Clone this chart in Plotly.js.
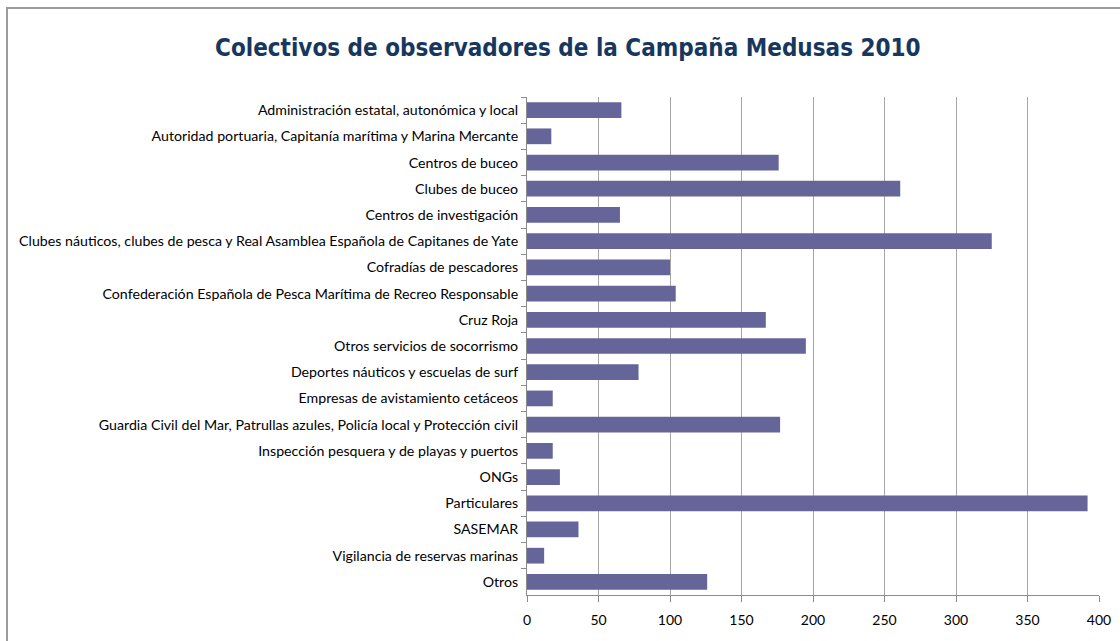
<!DOCTYPE html>
<html lang="es">
<head>
    <meta charset="UTF-8">
    <title>Colectivos de observadores de la Campaña Medusas 2010</title>
    <script src="https://cdn.plot.ly/plotly-3.0.1.min.js"></script>
    <style>
        body {
            margin: 0;
            background-color: white;
            overflow: hidden;
        }

        #chart {
            width: 1120px;
            height: 641px;
        }

        /* marco del gráfico (solo se ve arriba y a la izquierda) */
        .frame {
            position: absolute;
            left: 6px;
            top: 7px;
            width: 1200px;
            height: 700px;
            border-top: 2px solid #9c9c9c;
            border-left: 2px solid #9c9c9c;
            pointer-events: none;
        }
    </style>
</head>
<body>
    <div id="chart"></div>
    <div class="frame"></div>

    <script>
        // Colectivos (orden de arriba a abajo)
        const categorias = [
            'Administración estatal, autonómica y local',
            'Autoridad portuaria, Capitanía marítima y Marina Mercante',
            'Centros de buceo',
            'Clubes de buceo',
            'Centros de investigación',
            'Clubes náuticos, clubes de pesca y Real Asamblea Española de Capitanes de Yate',
            'Cofradías de pescadores',
            'Confederación Española de Pesca Marítima de Recreo Responsable',
            'Cruz Roja',
            'Otros servicios de socorrismo',
            'Deportes náuticos y escuelas de surf',
            'Empresas de avistamiento cetáceos',
            'Guardia Civil del Mar, Patrullas azules, Policía local y Protección civil',
            'Inspección pesquera y de playas y puertos',
            'ONGs',
            'Particulares',
            'SASEMAR',
            'Vigilancia de reservas marinas',
            'Otros'
        ];

        // Número de observadores
        const observadores = [66, 17, 176, 261, 65, 325, 100, 104, 167, 195, 78, 18, 177, 18, 23, 392, 36, 12, 126];

        const ticksX = [0, 50, 100, 150, 200, 250, 300, 350, 400];

        const fuente = 'Lato, "Open Sans", sans-serif';

        const trace = {
            type: 'bar',
            orientation: 'h',
            y: categorias,
            x: observadores,
            marker: { color: '#65659a' },
            hoverinfo: 'x+y'
        };

        const layout = {
            width: 1120,
            height: 641,
            margin: { l: 527, r: 21, t: 97, b: 46 },
            paper_bgcolor: 'white',
            plot_bgcolor: 'white',
            showlegend: false,
            bargap: 0.4,
            title: {
                text: 'Colectivos de observadores de la Campaña Medusas 2010',
                font: { family: '"DejaVu Sans Condensed", "DejaVu Sans", sans-serif', size: 24, color: '#17375e', weight: 'bold' },
                x: 0.507,
                xanchor: 'center',
                y: 0.925,
                yanchor: 'middle'
            },
            xaxis: {
                range: [0, 400],
                tickvals: ticksX,
                ticktext: ticksX.map(String),
                showgrid: true,
                gridcolor: '#a6a6a6',
                gridwidth: 1,
                zeroline: false,
                showline: true,
                linecolor: '#8c8c8c',
                ticks: 'outside',
                ticklen: 6,
                tickcolor: '#8c8c8c',
                ticklabelstandoff: 6,
                tickfont: { family: fuente, size: 14, color: '#000' },
                fixedrange: true
            },
            yaxis: {
                type: 'category',
                autorange: 'reversed',
                showgrid: false,
                showline: true,
                linecolor: '#8c8c8c',
                ticks: 'outside',
                tickson: 'boundaries',
                ticklen: 5,
                tickcolor: '#8c8c8c',
                ticklabelstandoff: 5,
                tickfont: { family: fuente, size: 14.2, color: '#000' },
                fixedrange: true
            }
        };

        Plotly.newPlot('chart', [trace], layout, { displayModeBar: false, staticPlot: true });
    </script>
</body>
</html>
